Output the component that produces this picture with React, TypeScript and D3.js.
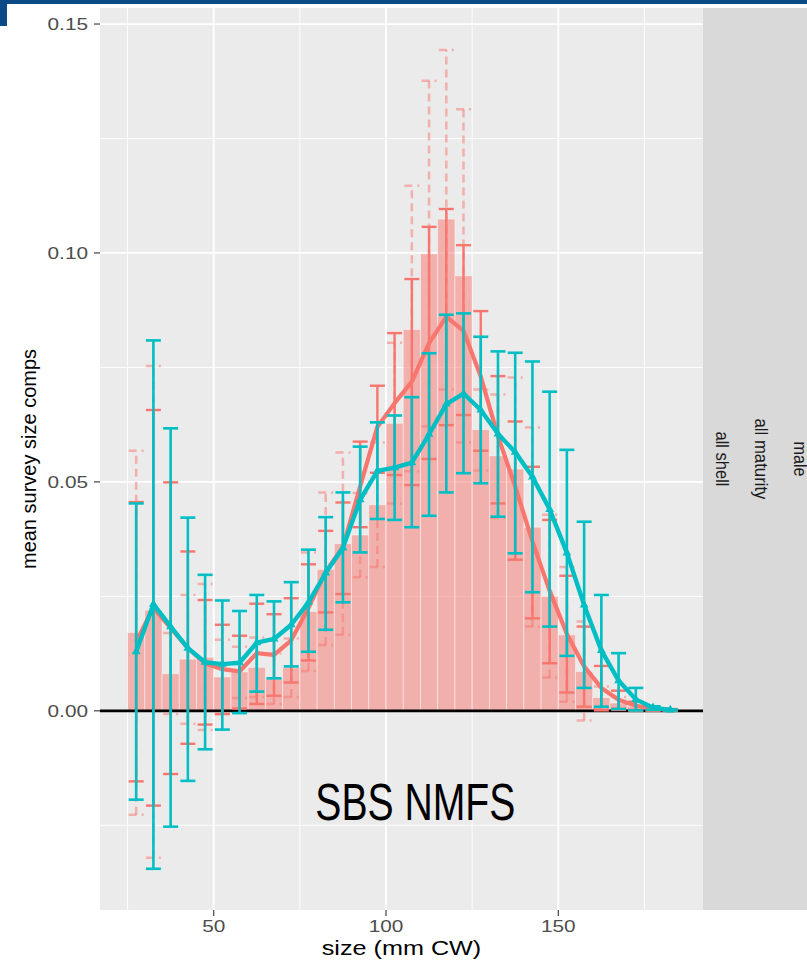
import React, { useEffect, useRef } from "react";
import * as d3 from "d3";

// size bin midpoints (mm CW)
const sizeBins = [
  27.5, 32.5, 37.5, 42.5, 47.5, 52.5, 57.5, 62.5, 67.5, 72.5, 77.5, 82.5, 87.5, 92.5, 97.5, 102.5,
  107.5, 112.5, 117.5, 122.5, 127.5, 132.5, 137.5, 142.5, 147.5, 152.5, 157.5, 162.5, 167.5, 172.5, 177.5, 182.5,
];

// observed mean comps (bars) and their intervals (dashed)
const obsComp = [
  0.0171, 0.022, 0.0081, 0.0113, 0.0117, 0.0074, 0.0085, 0.0095, 0.007, 0.0094, 0.0217, 0.0309, 0.0365, 0.0384, 0.045, 0.0628,
  0.0833, 0.0998, 0.1074, 0.095, 0.0614, 0.0557, 0.0528, 0.0401, 0.025, 0.0166, 0.0086, 0.0029, 0.0017, 0.001, 0.0004, 0.0002,
];
const obsLo = [
  -0.0227, -0.0321, -0.0007, -0.0028, -0.0042, -0.0007, 0.0028, 0.003, 0.0015, 0.003, 0.0087, 0.0144, 0.0166, 0.0292, 0.0314, 0.0453,
  0.0523, 0.0621, 0.0702, 0.0586, 0.0525, 0.0421, 0.033, 0.0184, 0.0073, 0.002, -0.0021, 0.0005, 0.0005, 0.0003, 0.0001, 0.0001,
];
const obsHi = [
  0.0568, 0.0753, 0.017, 0.0253, 0.0277, 0.0155, 0.014, 0.016, 0.0125, 0.0158, 0.0346, 0.0477, 0.0564, 0.0476, 0.0586, 0.0804,
  0.1147, 0.1376, 0.1443, 0.1314, 0.0702, 0.0691, 0.0728, 0.0619, 0.0428, 0.0314, 0.0195, 0.0053, 0.003, 0.0017, 0.0007, 0.0003,
];

// red series (line + solid error bars)
const redComp = [
  0.0151, 0.0225, 0.0181, 0.0137, 0.0104, 0.0091, 0.0086, 0.0126, 0.0122, 0.0154, 0.0225, 0.0304, 0.0358, 0.049, 0.062, 0.0672,
  0.0719, 0.0803, 0.0861, 0.083, 0.073, 0.06, 0.049, 0.037, 0.0262, 0.0168, 0.0097, 0.005, 0.0024, 0.0011, 0.0005, 0.0002,
];
const redLo = [
  -0.0154, -0.0207, -0.0138, -0.0072, -0.003, -0.0007, 0.0005, 0.0015, 0.0033, 0.0062, 0.011, 0.0215, 0.0255, 0.0401, 0.052, 0.0515,
  0.0493, 0.055, 0.0624, 0.0646, 0.0568, 0.0453, 0.033, 0.0202, 0.0104, 0.004, 0.0009, 0.0001, 0.0002, 0.0, 0.0, 0.0,
];
const redHi = [
  0.0456, 0.0657, 0.0499, 0.0348, 0.0242, 0.0188, 0.0164, 0.0234, 0.0211, 0.0246, 0.032, 0.0393, 0.0455, 0.0588, 0.071, 0.0825,
  0.0943, 0.1057, 0.1096, 0.1017, 0.0873, 0.0731, 0.0632, 0.0533, 0.0417, 0.0295, 0.0184, 0.0098, 0.0044, 0.002, 0.0009, 0.0004,
];

// teal series (line + error bars)
const tealComp = [
  0.0129, 0.0233, 0.0184, 0.0137, 0.0106, 0.0102, 0.0105, 0.0149, 0.0157, 0.0188, 0.0237, 0.0301, 0.0356, 0.0461, 0.0524, 0.0531,
  0.0542, 0.0604, 0.067, 0.0693, 0.0657, 0.0605, 0.0565, 0.0511, 0.044, 0.0345, 0.0231, 0.0132, 0.0066, 0.0025, 0.0007, 0.0002,
];
const tealLo = [
  -0.0194, -0.0345, -0.0253, -0.0153, -0.0084, -0.0041, -0.0005, 0.0042, 0.0071, 0.0097, 0.0129, 0.0177, 0.0237, 0.0346, 0.0419, 0.0417,
  0.0401, 0.0426, 0.0477, 0.0519, 0.0497, 0.0424, 0.0344, 0.0259, 0.0184, 0.012, 0.005, 0.0009, 0.0004, 0.0001, 0.0002, 0.0001,
];
const tealHi = [
  0.0453, 0.0809, 0.0617, 0.0422, 0.0297, 0.0241, 0.0218, 0.0253, 0.0239, 0.0281, 0.0352, 0.0423, 0.0477, 0.0577, 0.063, 0.0645,
  0.0685, 0.0781, 0.0865, 0.0868, 0.0817, 0.0785, 0.0782, 0.0763, 0.0697, 0.057, 0.0413, 0.0253, 0.0126, 0.005, 0.001, 0.0003,
];

const yTicks = [0, 0.05, 0.1, 0.15];
const yMinor = [-0.025, 0.025, 0.075, 0.125];
const xTicks = [50, 100, 150];
const xMinor = [25, 75, 125, 175];
const stripLabels = ["all shell", "all maturity", "male"];
const stripLengths = [55, 81, 35];

const RED = "#F8766D";
const TEAL = "#00BFC4";
const FONT = "'Liberation Sans', Arial, Helvetica, sans-serif";

export default function App() {
  const svgRef = useRef<SVGSVGElement>(null);

  useEffect(() => {
    if (!svgRef.current) return;
    const svg = d3.select(svgRef.current);
    svg.selectAll("*").remove();

    const panel = { left: 100, right: 703, top: 8, bottom: 910 };
    const x = d3.scaleLinear().domain([17, 192]).range([panel.left, panel.right]);
    const y = d3.scaleLinear().domain([-0.0435, 0.1535]).range([panel.bottom, panel.top]);
    const binW = 5;

    // header bars
    svg.append("rect").attr("x", 0).attr("y", 0).attr("width", 807).attr("height", 4).attr("fill", "#0b4a87");
    svg.append("rect").attr("x", 0).attr("y", 0).attr("width", 7).attr("height", 26).attr("fill", "#0b4a87");

    // panel background
    svg.append("rect")
      .attr("x", panel.left).attr("y", panel.top)
      .attr("width", panel.right - panel.left).attr("height", panel.bottom - panel.top)
      .attr("fill", "#EBEBEB");

    // strips (three stacked facet labels, the last one runs off the edge)
    svg.append("rect")
      .attr("x", panel.right).attr("y", panel.top)
      .attr("width", 807 - panel.right).attr("height", panel.bottom - panel.top)
      .attr("fill", "#D9D9D9");
    stripLabels.forEach((lab, i) => {
      const cx = panel.right + 19.5 + i * 39;
      svg.append("text")
        .attr("transform", `translate(${cx},${(panel.top + panel.bottom) / 2}) rotate(90)`)
        .attr("text-anchor", "middle")
        .attr("dominant-baseline", "central")
        .attr("textLength", stripLengths[i])
        .attr("lengthAdjust", "spacingAndGlyphs")
        .attr("fill", "#1A1A1A")
        .style("font-family", FONT)
        .style("font-size", "19px")
        .text(lab);
    });

    const g = svg.append("g");

    // grid
    yMinor.forEach((v) => {
      g.append("line").attr("x1", panel.left).attr("x2", panel.right)
        .attr("y1", y(v)).attr("y2", y(v)).attr("stroke", "#fff").attr("stroke-width", 0.9);
    });
    xMinor.forEach((v) => {
      g.append("line").attr("y1", panel.top).attr("y2", panel.bottom)
        .attr("x1", x(v)).attr("x2", x(v)).attr("stroke", "#fff").attr("stroke-width", 0.9);
    });
    yTicks.forEach((v) => {
      g.append("line").attr("x1", panel.left).attr("x2", panel.right)
        .attr("y1", y(v)).attr("y2", y(v)).attr("stroke", "#fff").attr("stroke-width", 1.8);
    });
    xTicks.forEach((v) => {
      g.append("line").attr("y1", panel.top).attr("y2", panel.bottom)
        .attr("x1", x(v)).attr("x2", x(v)).attr("stroke", "#fff").attr("stroke-width", 1.8);
    });

    // observed bars
    g.selectAll("rect.bar")
      .data(sizeBins)
      .enter()
      .append("rect")
      .attr("class", "bar")
      .attr("x", (d) => x(d - binW / 2))
      .attr("width", (d) => x(d + binW / 2) - x(d - binW / 2))
      .attr("y", (_, i) => y(Math.max(0, obsComp[i])))
      .attr("height", (_, i) => Math.abs(y(0) - y(obsComp[i])))
      .attr("fill", RED)
      .attr("fill-opacity", 0.5)
      .attr("stroke", "#fff")
      .attr("stroke-opacity", 0.55)
      .attr("stroke-width", 0.8);

    // zero line
    g.append("line").attr("x1", panel.left).attr("x2", panel.right)
      .attr("y1", y(0)).attr("y2", y(0)).attr("stroke", "#000").attr("stroke-width", 2.6);

    const capHalf = 7.5;
    function errorBars(lo: number[], hi: number[], color: string, opacity: number, width: number, dash?: string) {
      const eg = g.append("g")
        .attr("stroke", color)
        .attr("stroke-opacity", opacity)
        .attr("stroke-width", width)
        .attr("fill", "none");
      if (dash) eg.attr("stroke-dasharray", dash);
      sizeBins.forEach((b, i) => {
        const cx = x(b);
        eg.append("line").attr("x1", cx).attr("x2", cx).attr("y1", y(lo[i])).attr("y2", y(hi[i]));
        eg.append("line").attr("x1", cx - capHalf).attr("x2", cx + capHalf).attr("y1", y(lo[i])).attr("y2", y(lo[i]));
        eg.append("line").attr("x1", cx - capHalf).attr("x2", cx + capHalf).attr("y1", y(hi[i])).attr("y2", y(hi[i]));
      });
    }

    errorBars(obsLo, obsHi, RED, 0.5, 2.5, "8,5");
    errorBars(redLo, redHi, RED, 1, 2.4);

    const line = d3.line<number>()
      .x((_, i) => x(sizeBins[i]))
      .y((d) => y(d));

    g.append("path").datum(redComp)
      .attr("fill", "none").attr("stroke", RED).attr("stroke-width", 4.2)
      .attr("stroke-linejoin", "round").attr("d", line);

    errorBars(tealLo, tealHi, TEAL, 1, 2.6);

    g.append("path").datum(tealComp)
      .attr("fill", "none").attr("stroke", TEAL).attr("stroke-width", 4.4)
      .attr("stroke-linejoin", "round").attr("d", line);

    const tri = d3.symbol().type(d3.symbolTriangle).size(34);
    g.selectAll("path.pt")
      .data(tealComp)
      .enter()
      .append("path")
      .attr("class", "pt")
      .attr("transform", (d, i) => `translate(${x(sizeBins[i])},${y(d)})`)
      .attr("d", tri)
      .attr("fill", TEAL);

    // annotation
    g.append("text")
      .attr("x", x(108.5))
      .attr("y", y(-0.0238))
      .attr("text-anchor", "middle")
      .attr("textLength", 200)
      .attr("lengthAdjust", "spacingAndGlyphs")
      .attr("fill", "#000")
      .style("font-family", FONT)
      .style("font-size", "51px")
      .text("SBS NMFS");

    // axes
    const axisColor = "#333333";
    yTicks.forEach((v) => {
      svg.append("line").attr("x1", panel.left - 6).attr("x2", panel.left)
        .attr("y1", y(v)).attr("y2", y(v)).attr("stroke", axisColor).attr("stroke-width", 1.1);
      svg.append("text")
        .attr("transform", `translate(${panel.left - 12},${y(v)}) scale(1.26,1)`)
        .attr("text-anchor", "end")
        .attr("dominant-baseline", "central")
        .attr("fill", "#4D4D4D")
        .style("font-family", FONT)
        .style("font-size", "16.5px")
        .text(d3.format(".2f")(v));
    });
    xTicks.forEach((v) => {
      svg.append("line").attr("x1", x(v)).attr("x2", x(v))
        .attr("y1", panel.bottom).attr("y2", panel.bottom + 6).attr("stroke", axisColor).attr("stroke-width", 1.1);
      svg.append("text")
        .attr("transform", `translate(${x(v)},${panel.bottom + 21.5}) scale(1.26,1)`)
        .attr("text-anchor", "middle")
        .attr("fill", "#4D4D4D")
        .style("font-family", FONT)
        .style("font-size", "16.5px")
        .text(String(v));
    });

    svg.append("text")
      .attr("transform", `translate(${(panel.left + panel.right) / 2},${panel.bottom + 45}) scale(1.26,1)`)
      .attr("text-anchor", "middle")
      .attr("fill", "#000")
      .style("font-family", FONT)
      .style("font-size", "20px")
      .text("size (mm CW)");

    svg.append("text")
      .attr("transform", `translate(29,${(panel.top + panel.bottom) / 2}) rotate(-90)`)
      .attr("text-anchor", "middle")
      .attr("dominant-baseline", "central")
      .attr("fill", "#000")
      .style("font-family", FONT)
      .style("font-size", "20px")
      .text("mean survey size comps");
  }, []);

  return (
    <svg
      ref={svgRef}
      width={807}
      height={961}
      style={{ position: "absolute", left: 0, top: 0, display: "block", background: "#fff" }}
    />
  );
}
